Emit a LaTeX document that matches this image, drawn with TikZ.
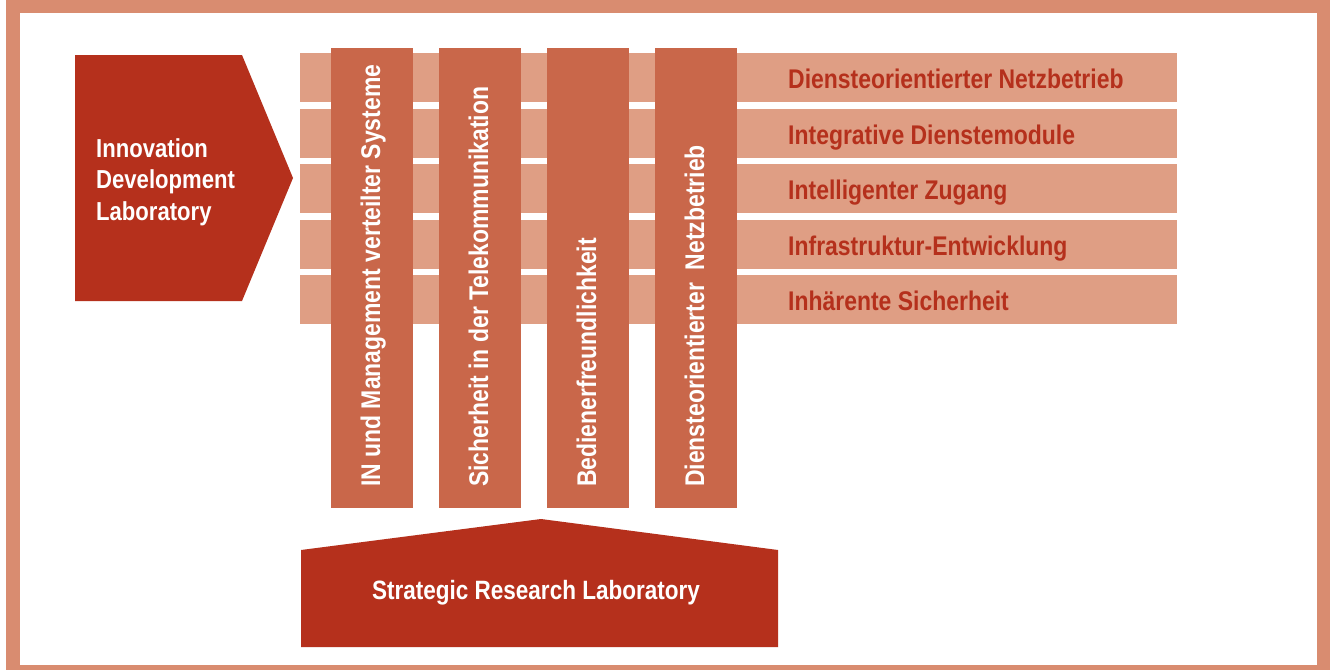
\documentclass[tikz,border=0pt]{standalone}
\usepackage{fontspec}
\setmainfont{Liberation Sans}[FakeStretch=0.85]
\definecolor{framec}{HTML}{D98C70}
\definecolor{rowc}{HTML}{DF9E84}
\definecolor{colc}{HTML}{C9674A}
\definecolor{labc}{HTML}{B5301C}
\begin{document}
\begin{tikzpicture}[x=1pt,y=-1pt,
  rowbar/.style={fill=rowc,inner sep=0pt,outer sep=0pt,minimum width=877pt,minimum height=49pt,anchor=north west},
  colbar/.style={fill=colc,inner sep=0pt,outer sep=0pt,minimum width=82pt,minimum height=460pt,anchor=north west},
  rowtext/.style={text=labc,font=\bfseries\fontsize{27}{30}\selectfont,anchor=base west,inner sep=0pt},
  coltext/.style={text=white,font=\bfseries\fontsize{27}{30}\selectfont,rotate=90,anchor=base west,inner sep=0pt},
  labtext/.style={text=white,font=\bfseries\fontsize{26}{31.5}\selectfont,inner sep=0pt}]
\useasboundingbox (0,0) rectangle (1334,670);
% frame
\fill[white] (0,0) rectangle (1334,670);
\fill[framec] (6,0) rectangle (1330,670);
\fill[white] (20,13) rectangle (1317,665);

% horizontal bands
\foreach \i/\t in {1/53,2/109,3/164,4/220,5/275}
  \node[rowbar] (row\i) at (300,\t) {};

% vertical bands
\foreach \i/\x in {1/331,2/439,3/547,4/655}
  \node[colbar] (col\i) at (\x,48) {};

% row labels
\node[rowtext] (t1) at (788,88) {Diensteorientierter Netzbetrieb};
\node[rowtext] (t2) at (788,144) {Integrative Dienstemodule};
\node[rowtext] (t3) at (788,199) {Intelligenter Zugang};
\node[rowtext] (t4) at (788,255) {Infrastruktur-Entwicklung};
\node[rowtext] (t5) at (788,310) {Inhärente Sicherheit};

% column labels
\node[coltext] (c1) at (380,487) {IN und Management verteilter Systeme};
\node[coltext] (c2) at (488,487) {Sicherheit in der Telekommunikation};
\node[coltext] (c3) at (596,487) {Bedienerfreundlichkeit};
\node[coltext] (c4) at (704,487) {Diensteorientierter\ \ Netzbetrieb};

% innovation lab arrow
\fill[labc] (75,55) -- (242,55) -- (293,178) -- (242,301) -- (75,301) -- cycle;
\node[labtext,align=left,anchor=west] (idl) at (96,182) {Innovation\\Development\\Laboratory};

% strategic research lab
\fill[labc] (301,647) -- (301,550) -- (541,519) -- (778,550) -- (778,647) -- cycle;
\node[labtext,font=\bfseries\fontsize{26.5}{30}\selectfont,anchor=base] (srl) at (536,599) {Strategic Research Laboratory};
\end{tikzpicture}
\end{document}
